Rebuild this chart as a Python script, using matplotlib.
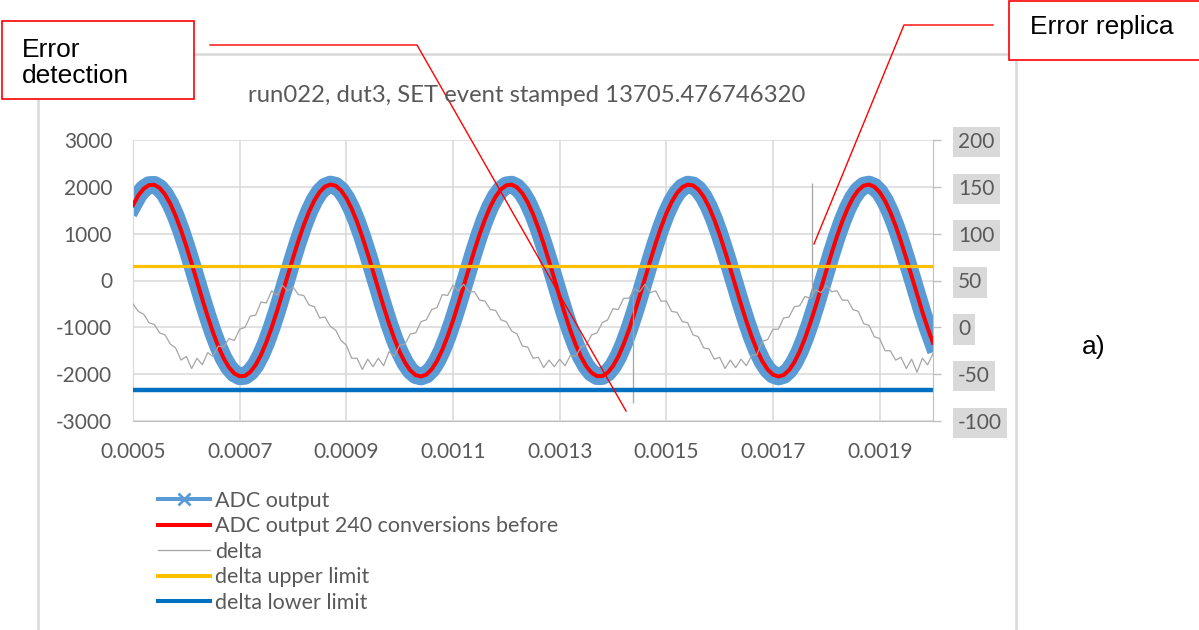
import numpy as np
import matplotlib.pyplot as plt
from matplotlib.lines import Line2D
from matplotlib.patches import Rectangle

plt.rcParams['font.family'] = ['Lato', 'DejaVu Sans']
plt.rcParams['axes.unicode_minus'] = False

# instantes de muestreo (s): una lectura cada 10 us entre 0.0005 y 0.002
t = np.linspace(0.0005, 0.002, 151)

# salida del ADC (eje izquierdo)
adc_out = [1610, 1817, 1961, 2037, 2043, 1976, 1839, 1638, 1381, 1075,
           732, 363, -18, -399, -767, -1107, -1408, -1661, -1856, -1985,
           -2046, -2035, -1952, -1802, -1588, -1320, -1005, -655, -282, 101,
           480, 843, 1176, 1467, 1708, 1889, 2004, 2049, 2023, 1926,
           1760, 1534, 1255, 931, 576, 200, -183, -560, -917, -1242,
           -1524, -1752, -1920, -2020, -2050, -2008, -1896, -1717, -1479, -1189,
           -858, -497, -118, 265, 639, 990, 1307, 1578, 1794, 1947,
           2032, 2047, 1990, 1863, 1672, 1420, 1120, 782, 416, 35,
           -347, -717, -1062, -1369, -1629, -1832, -1972, -2042, -2040, -1968,
           -1827, -1622, -1360, -1051, -705, -335, 47, 428, 794, 1131,
           1430, 1678, 1868, 1992, 2047, 2031, 1943, 1788, 1570, 1297,
           979, 627, 253, -130, -508, -869, -1199, -1488, -1724, -1900,
           -2010, -2050, -2018, -1916, -1746, -1516, -1232, -906, -548, -171,
           212, 588, 943, 1265, 1543, 1768, 1930, 2025, 2049, 2002,
           1885, 1702, 1459, 1166, 831, 468, 89, -294, -666, -1016,
           -1329]
# 240 conversiones antes la señal coincide con la actual
adc_prev = adc_out

# delta (eje derecho)
delta = [25, 17, 14, 5, 3, -6, -8, -18, -22, -35,
         -31, -44, -33, -40, -27, -31, -20, -21, -12, -14,
         -2, 0, 12, 13, 27, 26, 39, 34, 45, 39,
         43, 35, 34, 24, 22, 10, 11, 1, -3, -14,
         -19, -33, -33, -45, -34, -42, -33, -41, -26, -31,
         -19, -18, -7, -6, 6, 8, 19, 21, 35, 34,
         45, 39, 46, 38, 38, 29, 28, 19, 18, 8,
         6, -4, -7, -20, -21, -33, -32, -43, -35, -42,
         -34, -41, -30, -31, -21, -19, -8, -6, 5, 8,
         20, 19, 31, 31, 41, 38, 46, 37, 39, 28,
         28, 17, 16, 6, 5, -8, -10, -22, -23, -34,
         -32, -44, -35, -43, -34, -41, -30, -29, -15, -13,
         -2, -2, 10, 11, 22, 23, 33, 31, 40, 37,
         45, 38, 39, 29, 29, 19, 17, 4, 2, -10,
         -12, -25, -25, -35, -32, -44, -34, -48, -33, -40,
         -28]
# picos del delta (error y su réplica)
spike_t = [0.0014375, 0.0017732]
spike_from = [36, 33]
spike_to = [-81, 154]

upper_limit = 66
lower_limit = -67

xticks = [0.0005, 0.0007, 0.0009, 0.0011, 0.0013, 0.0015, 0.0017, 0.0019]
xlabels = ['0.0005', '0.0007', '0.0009', '0.0011', '0.0013', '0.0015', '0.0017', '0.0019']
yticks_left = [-3000, -2000, -1000, 0, 1000, 2000, 3000]
yticks_right = [-100, -50, 0, 50, 100, 150, 200]

W, H = 1199, 630


def fx(x):
    return x / W


def fy(y):
    return 1 - y / H


GRAY_TXT = '#595959'
GRID = '#D9D9D9'

fig = plt.figure(figsize=(W / 100, H / 100), dpi=100)

# marco del gráfico
fig.add_artist(Rectangle((fx(38), fy(640)), fx(1016) - fx(38), fy(54) - fy(640),
                         transform=fig.transFigure, fill=False, edgecolor=GRID, lw=1.8))

ax = fig.add_axes([fx(133), fy(421), fx(933) - fx(133), fy(140) - fy(421)])
ax2 = ax.twinx()

ax.plot(t, adc_out, color='#5B9BD5', lw=12.8, solid_joinstyle='round', zorder=2)
ax.plot(t, adc_prev, color='#FF0000', lw=2.9, zorder=3)

ax2.plot(t, delta, color='#A5A5A5', lw=0.9)
ax2.vlines(spike_t, spike_from, spike_to, color='#A5A5A5', lw=0.9)
ax2.axhline(upper_limit, color='#FFC000', lw=2.3)
ax2.axhline(lower_limit, color='#0070C0', lw=3.2)

ax.set_xlim(0.0005, 0.002)
ax.set_ylim(-3000, 3000)
ax2.set_ylim(-100, 200)

ax.set_xticks(xticks)
ax.set_xticklabels(xlabels)
ax.set_yticks(yticks_left)
ax2.set_yticks(yticks_right)
ax2.set_yticklabels([str(v) for v in yticks_right],
                    bbox=dict(facecolor=GRID, edgecolor='none', pad=2.5))

ax.grid(True, color=GRID, lw=1.1)
ax.set_axisbelow(True)
ax.tick_params(axis='both', length=0, labelsize=15, labelcolor=GRAY_TXT)
ax.tick_params(axis='x', pad=15)
ax.tick_params(axis='y', pad=15)
ax2.tick_params(axis='y', length=6, width=1, color='#BFBFBF', direction='out',
                labelsize=15, labelcolor=GRAY_TXT, pad=12)

for s in ['top', 'right']:
    ax.spines[s].set_visible(False)
ax.spines['left'].set_color(GRID)
ax.spines['bottom'].set_color('#BFBFBF')
for s in ['top', 'left', 'bottom']:
    ax2.spines[s].set_visible(False)
ax2.spines['right'].set_color('#BFBFBF')

fig.text(fx(527), fy(95), 'run022, dut3, SET event stamped 13705.476746320',
         ha='center', va='center', fontsize=17.2, color=GRAY_TXT)

# leyenda
handles = [Line2D([], [], color='#5B9BD5', lw=2.9, marker='x', markersize=8, mew=2),
           Line2D([], [], color='#FF0000', lw=2.9),
           Line2D([], [], color='#A5A5A5', lw=0.9),
           Line2D([], [], color='#FFC000', lw=2.9),
           Line2D([], [], color='#0070C0', lw=2.9)]
labels = ['ADC output', 'ADC output 240 conversions before', 'delta',
          'delta upper limit', 'delta lower limit']
leg = fig.legend(handles, labels, loc='upper left', bbox_to_anchor=(fx(149), fy(482)),
                 frameon=False, fontsize=15.5, handlelength=2.45, handletextpad=0.2,
                 labelspacing=0.26, borderaxespad=0)
for txt in leg.get_texts():
    txt.set_color(GRAY_TXT)

# recuadros de anotación
fig.add_artist(Line2D([fx(210), fx(417), fx(626)], [fy(45), fy(45), fy(411)],
                      transform=fig.transFigure, color='#FF0000', lw=1))
fig.add_artist(Line2D([fx(993), fx(904), fx(814)], [fy(25), fy(25), fy(244)],
                      transform=fig.transFigure, color='#FF0000', lw=1))

fig.add_artist(Rectangle((fx(2), fy(99)), fx(194) - fx(2), fy(21) - fy(99),
                         transform=fig.transFigure, facecolor='white',
                         edgecolor='#FF0000', lw=1.2))
fig.text(fx(22), fy(63), 'Error\ndetection', ha='left', va='center',
         fontsize=19, family='Liberation Sans', linespacing=1.12)

fig.add_artist(Rectangle((fx(1009), fy(60)), fx(1210) - fx(1009), fy(1) - fy(60),
                         transform=fig.transFigure, facecolor='white',
                         edgecolor='#FF0000', lw=1.2))
fig.text(fx(1030), fy(27), 'Error replica', ha='left', va='center',
         fontsize=19, family='Liberation Sans')

fig.text(fx(1082), fy(347), 'a)', ha='left', va='center',
         fontsize=19, family='Liberation Sans')

plt.savefig('out.png', dpi=100)
